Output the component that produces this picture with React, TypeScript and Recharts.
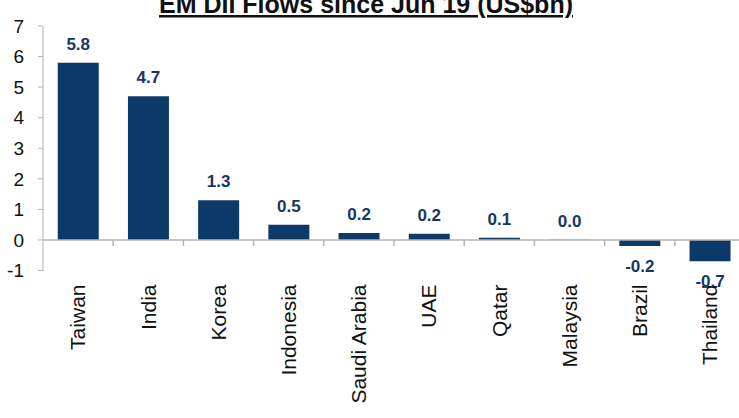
import React from "react";
import {
  BarChart,
  Bar,
  XAxis,
  YAxis,
  ReferenceLine,
  LabelList,
} from "recharts";

const countries = [
  "Taiwan",
  "India",
  "Korea",
  "Indonesia",
  "Saudi Arabia",
  "UAE",
  "Qatar",
  "Malaysia",
  "Brazil",
  "Thailand",
];
const flows = [5.8, 4.7, 1.3, 0.5, 0.23, 0.2, 0.07, 0.01, -0.2, -0.7];
const yTicks = [-1, 0, 1, 2, 3, 4, 5, 6, 7];

const data = countries.map((c, i) => ({ country: c, flow: flows[i] }));

const FONT = "'Liberation Sans', Arial, sans-serif";
const NAVY = "#0b3a68";
const LABEL = "#17375e";
const AXIS = "#b4b4b4";

// 棒ラベル：正は上、負は下
function ValueLabel(props: any) {
  const { x, y, width, height, value } = props;
  const top = Math.min(y, y + height);
  const bottom = Math.max(y, y + height);
  const cx = x + width / 2;
  const ty = value < 0 ? bottom + 26 : top - 13;
  return (
    <text
      x={cx}
      y={ty}
      textAnchor="middle"
      fontFamily={FONT}
      fontWeight="bold"
      fontSize={17}
      fill={LABEL}
    >
      {Number(value).toFixed(1)}
    </text>
  );
}

function CountryTick(props: any) {
  const { x, y, payload } = props;
  return (
    <text
      x={x}
      y={y}
      dy="0.35em"
      textAnchor="end"
      transform={`rotate(-90, ${x}, ${y})`}
      fontFamily={FONT}
      fontSize={21}
      fill="#111"
    >
      {payload.value}
    </text>
  );
}

// ゼロ線＋カテゴリ境界の目盛り
function ZeroLine(props: any) {
  const { x1, y1, x2 } = props;
  const step = (x2 - x1) / countries.length;
  return (
    <g>
      <line x1={x1} y1={y1} x2={x2} y2={y1} stroke={AXIS} strokeWidth={1.5} />
      {countries.map((_, i) => (
        <line
          key={i}
          x1={x1 + step * (i + 1)}
          x2={x1 + step * (i + 1)}
          y1={y1}
          y2={y1 + 6}
          stroke={AXIS}
          strokeWidth={1.5}
        />
      ))}
    </g>
  );
}

export default function App() {
  return (
    <div
      style={{
        position: "absolute",
        left: 0,
        top: 0,
        width: 739,
        height: 418,
        overflow: "hidden",
        background: "#fff",
        fontFamily: FONT,
      }}
    >
      <BarChart
        width={745}
        height={418}
        data={data}
        margin={{ top: 26, right: 0, left: 0, bottom: 0 }}
        barCategoryGap="21%"
      >
        <YAxis
          width={43}
          domain={[-1, 7]}
          ticks={yTicks}
          interval={0}
          tickSize={5}
          tickMargin={14}
          stroke={AXIS}
          tick={{ fill: "#111", fontSize: 19, fontFamily: FONT }}
        />
        <XAxis
          dataKey="country"
          height={147.5}
          axisLine={false}
          tickLine={false}
          interval={0}
          tickSize={0}
          tickMargin={14}
          tick={<CountryTick />}
        />
        <ReferenceLine y={0} shape={<ZeroLine />} />
        <Bar dataKey="flow" fill={NAVY} isAnimationActive={false}>
          <LabelList dataKey="flow" content={<ValueLabel />} />
        </Bar>
      </BarChart>
      <svg
        width={739}
        height={30}
        style={{ position: "absolute", left: 0, top: 0 }}
      >
        <text
          x={366}
          y={13}
          textAnchor="middle"
          fontFamily={FONT}
          fontWeight="bold"
          fontSize={25}
          textDecoration="underline"
          fill="#111"
        >
          EM DII Flows since Jun 19 (US$bn)
        </text>
      </svg>
    </div>
  );
}
